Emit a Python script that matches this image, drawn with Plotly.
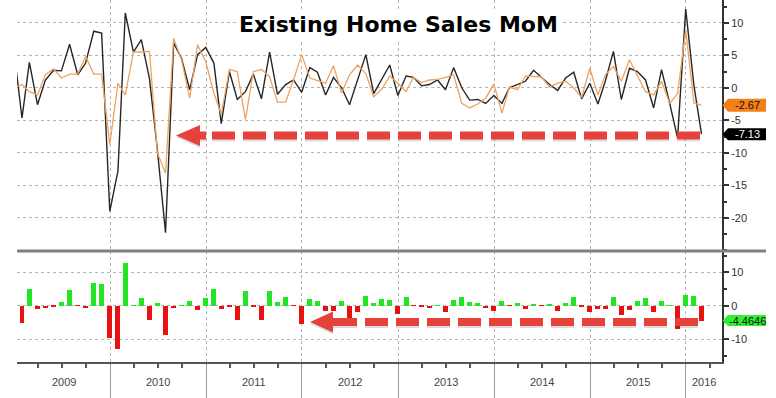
import plotly.graph_objects as go
import pandas as pd

# ---------------- data ----------------
# month-end dates, Dec-2008 .. Feb-2016 (Dec-2008 only feeds the clipped line start)
months = pd.date_range("2008-12-31", "2016-02-29", freq="ME")

actual = [5.8,
          -4.65, 3.9, -2.6, 1.2, 2.7, 2.6, 6.7, 2.0, 3.8, 8.7, 8.4, -19.0,
          -12.8, 11.5, 5.5, 7.4, 1.4, -9.5, -22.3, 6.9, 4.5, -0.3, 5.1, 6.2,
          3.8, -5.5, 2.5, -1.8, -0.6, 2.1, -1.7, 5.5, -1.0, 0.5, 1.2, -0.7,
          3.1, 2.4, -1.1, 1.6, 0.0, -2.6, 1.2, 5.1, -0.9, 1.3, 3.5, -1.2,
          1.8, 1.6, 0.3, 0.5, 1.2, -0.3, 3.1, 0.0, -1.9, -1.8, -2.4, -1.2,
          -2.4, 0.0, 0.5, 1.0, 2.7, 1.6, 0.5, -0.4, 1.5, 2.4, -1.7, 0.7,
          -2.5, 1.0, 5.6, -1.8, 3.0, 2.5, 1.2, -3.1, 2.8, -2.4, -7.7, 12.1,
          0.4, -7.13]

survey = [-0.1,
          0.5, -0.6, -1.1, 2.0, 2.9, 1.5, 2.1, 2.1, 4.8, 2.1, 2.1, -8.7,
          0.7, -1.1, 5.5, 5.5, 5.6, -10.0, -13.1, 7.6, 4.3, -1.6, 6.6, 4.0,
          -0.8, -4.1, 2.8, 2.5, -4.9, 2.5, 2.8, 1.7, -2.2, -2.2, 1.2, 5.1,
          1.5, 1.1, 0.7, 3.4, -0.8, 2.0, 3.5, 2.2, -1.4, -0.2, 1.8, 0.7,
          -0.6, 1.6, 0.8, 1.2, 1.3, 1.6, 2.0, -2.4, -3.1, -2.5, -1.6, 0.6,
          -3.9, 0.1, -0.3, 1.8, 1.8, 1.7, 0.1, 0.7, 1.0, 0.0, -1.5, 3.0,
          -1.1, 2.0, 3.3, 1.0, 4.3, 2.0, -0.6, -1.1, 1.0, -2.4, -0.9, 8.9,
          -2.35, -2.67]

# surprise bars, Jan-2009 .. Feb-2016
surprise = [-5.2, 4.9, -1.1, -0.8, -0.2, 1.2, 4.7, -0.1, -0.6, 6.7, 6.5, -9.6,
            -13.0, 12.9, 0.1, 2.2, -4.2, 0.7, -8.9, -0.8, 0.2, 1.5, -1.4, 2.4,
            4.9, -1.0, -0.3, -4.4, 4.4, -0.3, -4.2, 4.3, 1.2, 2.6, -0.1, -5.5,
            1.9, 1.5, -1.5, -1.5, 1.5, -3.9, -1.8, 2.8, 0.7, 2.1, 1.8, -2.5,
            2.5, -0.1, -0.2, -0.8, 0.1, -1.8, 1.6, 2.5, 1.0, 0.7, -0.7, -1.6,
            1.5, -0.1, 0.7, -1.0, 0.4, -0.1, 0.3, -1.5, 0.7, 2.5, -0.2, -2.0,
            -1.0, -1.0, 2.5, -2.7, -1.3, 1.3, 2.3, -2.0, 1.5, 0.1, -7.0, 3.2,
            2.8, -4.4646]

years = [2009, 2010, 2011, 2012, 2013, 2014, 2015, 2016]
top_ticks = [-20, -15, -10, -5, 0, 5, 10]
bot_ticks = [-10, 0, 10]

last_survey_lbl = "-2.67"
last_actual_lbl = "-7.13"
last_surprise_lbl = "-4.4646"

# ---------------- geometry ----------------
W, H = 776, 398
L, R, T, B = 17, 54, 0, 36
PW, PH = W - L - R, H - T - B
SPLIT = 111 / PH
X_RANGE = ["2009-01-12", "2016-05-17"]
TOP_RANGE = [-25.1, 13.5]
BOT_RANGE = [-16.9, 16.4]


def px(p):
    return (p - L) / PW


def py(q):
    return (PH + T - q) / PH


def ytop(v):
    return SPLIT + (v - TOP_RANGE[0]) / (TOP_RANGE[1] - TOP_RANGE[0]) * (1 - SPLIT)


def ybot(v):
    return (v - BOT_RANGE[0]) / (BOT_RANGE[1] - BOT_RANGE[0]) * SPLIT


DY = 1 / PH
DX = 1 / PW

GREEN = "#22e622"
RED = "#e81212"
ARROW = "#e5423c"

fig = go.Figure()

fig.add_trace(go.Scatter(x=months, y=actual, mode="lines",
                         line=dict(color="#262626", width=1.4),
                         xaxis="x", yaxis="y", hoverinfo="skip"))
fig.add_trace(go.Scatter(x=months, y=survey, mode="lines",
                         line=dict(color="#eda463", width=1.3),
                         xaxis="x", yaxis="y", hoverinfo="skip"))
fig.add_trace(go.Bar(x=months[1:], y=surprise,
                     marker=dict(color=[GREEN if v >= 0 else RED for v in surprise],
                                 line=dict(width=0)),
                     width=19 * 86400000, xaxis="x2", yaxis="y2", hoverinfo="skip"))

grid = dict(showgrid=True, griddash="dot", gridcolor="#b4b4b4", gridwidth=1)
tickfont = dict(family="Liberation Sans, Arial, sans-serif", size=11, color="#333")

fig.update_layout(
    width=W, height=H, margin=dict(l=L, r=R, t=T, b=B, autoexpand=False),
    paper_bgcolor="white", plot_bgcolor="white",
    showlegend=False, hovermode=False, bargap=0,
    xaxis=dict(type="date", domain=[0, 1], anchor="y", range=X_RANGE,
               tick0="2009-01-01", dtick="M12", showticklabels=False,
               ticks="", showline=False, zeroline=False, **grid),
    yaxis=dict(domain=[SPLIT, 1], anchor="x", side="right", range=TOP_RANGE,
               tickmode="array", tickvals=top_ticks,
               ticktext=[str(v) for v in top_ticks],
               ticks="outside", ticklen=5, tickwidth=2, tickcolor="#333",
               minor=dict(tick0=0, dtick=2.5, ticks="outside", ticklen=3,
                          tickwidth=1.5, tickcolor="#333", showgrid=False),
               showline=True, linecolor="#333", linewidth=2,
               zeroline=False, tickfont=tickfont, **grid),
    xaxis2=dict(type="date", domain=[0, 1], anchor="y2", range=X_RANGE,
                tick0="2009-01-01", dtick="M12", showticklabels=False,
                ticks="outside", ticklen=36, tickwidth=1, tickcolor="#999",
                minor=dict(tick0="2009-01-01", dtick="M3", ticks="outside",
                           ticklen=4, tickwidth=1.5, tickcolor="#555", showgrid=False),
                showline=True, linecolor="#555", linewidth=1.5,
                zeroline=False, **grid),
    yaxis2=dict(domain=[0, SPLIT], anchor="x2", side="right", range=BOT_RANGE,
                tickmode="array", tickvals=bot_ticks,
                ticktext=[str(v) for v in bot_ticks],
                ticks="outside", ticklen=5, tickwidth=2, tickcolor="#333",
                minor=dict(tick0=0, dtick=5, ticks="outside", ticklen=3,
                           tickwidth=1.5, tickcolor="#333", showgrid=False),
                showline=True, linecolor="#333", linewidth=2,
                zeroline=False, tickfont=tickfont, **grid),
)

shapes = []
# separator between panels
shapes.append(dict(type="line", xref="paper", yref="paper",
                   x0=0, x1=px(766), y0=SPLIT, y1=SPLIT,
                   line=dict(color="#808080", width=3), layer="above"))


def arrow(y_c, tip, base, body_end, d0, d1):
    hh = 10.5 * DY
    bh = 4 * DY
    out = []
    sh = 2 * DY
    for off, col in ((-sh, "rgba(0,0,0,0.13)"), (0, ARROW)):
        yc = y_c + off
        path = (f"M {px(tip)},{yc} L {px(base)},{yc + hh} L {px(base)},{yc + bh} "
                f"L {px(body_end)},{yc + bh} L {px(body_end)},{yc - bh} "
                f"L {px(base)},{yc - bh} L {px(base)},{yc - hh} Z")
        out.append(dict(type="path", xref="paper", yref="paper", path=path,
                        fillcolor=col, line=dict(width=0), layer="above"))
        out.append(dict(type="line", xref="paper", yref="paper",
                        x0=px(d0), x1=px(d1), y0=yc, y1=yc,
                        line=dict(color=col, width=8, dash="23px,8px"),
                        layer="above"))
    return out


shapes += arrow(py(135.5), 176, 200, 206, 212, 701)
shapes += arrow(py(322), 310, 333, 357, 365, 700)


def value_box(yc, half, color):
    x0, x1, x2 = px(722.5), px(728), px(766)
    path = (f"M {x0},{yc} L {x1},{yc + half} L {x2},{yc + half} "
            f"L {x2},{yc - half} L {x1},{yc - half} Z")
    return dict(type="path", xref="paper", yref="paper", path=path,
                fillcolor=color, line=dict(width=0), layer="above")


y_sur = ytop(survey[-1])
y_act = ytop(actual[-1])
y_bar = ybot(surprise[-1])
shapes.append(value_box(y_sur, 6.5 * DY, "#f57f17"))
shapes.append(value_box(y_act, 6 * DY, "#000000"))
shapes.append(value_box(y_bar, 5.5 * DY, "#33ee33"))

fig.update_layout(shapes=shapes)

ann = []
lblfont = dict(family="Liberation Sans, Arial, sans-serif", size=11)
for yv, txt, col in ((y_sur, last_survey_lbl, "#111"),
                     (y_act, last_actual_lbl, "white"),
                     (y_bar, last_surprise_lbl, "#111")):
    ann.append(dict(xref="paper", yref="paper", x=px(747), y=yv, text=txt,
                    xanchor="center", yanchor="middle", showarrow=False,
                    font=dict(color=col, **lblfont)))

# year labels centred in the visible part of each year
x_lo = pd.Timestamp(X_RANGE[0])
x_hi = pd.Timestamp(X_RANGE[1])
for yr in years:
    a = max(pd.Timestamp(f"{yr}-01-01"), x_lo)
    b = min(pd.Timestamp(f"{yr + 1}-01-01"), x_hi)
    mid = a + (b - a) / 2
    ann.append(dict(xref="x2", yref="paper", x=mid, y=py(382), text=str(yr),
                    showarrow=False, xanchor="center", yanchor="middle",
                    font=dict(family="Liberation Sans, Arial, sans-serif",
                              size=11, color="#444")))

# title
ann.append(dict(xref="paper", yref="paper", x=px(398), y=py(25),
                xanchor="center", yanchor="middle",
                text="Existing Home Sales MoM", showarrow=False,
                bgcolor="white", borderpad=2,
                font=dict(family="DejaVu Sans", size=22, color="black", weight="bold")))

fig.update_layout(annotations=ann)

fig.write_html("out.html", config={"displayModeBar": False},
               post_script="document.body.style.margin='0px';document.body.style.overflow='hidden';")
